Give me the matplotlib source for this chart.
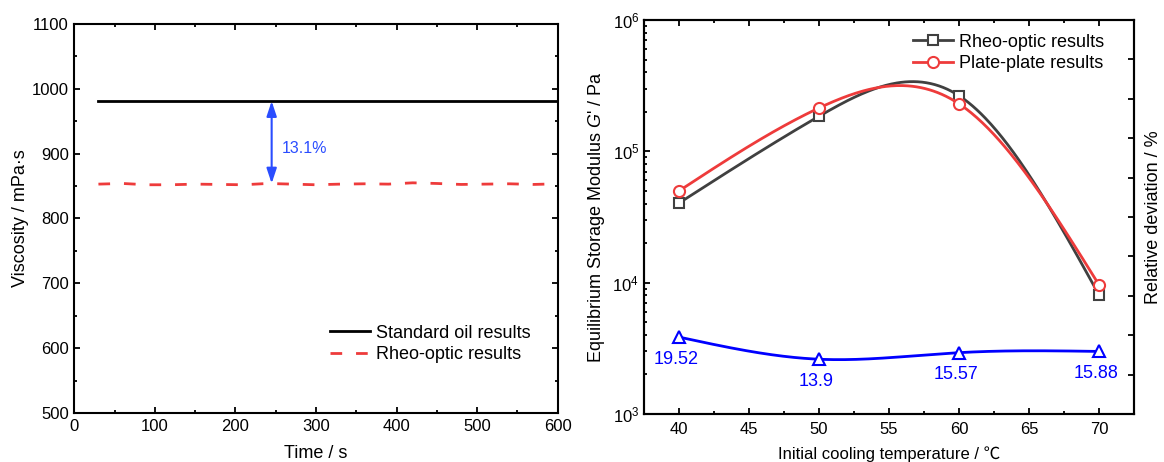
import numpy as np
import matplotlib
matplotlib.use('Agg')
import matplotlib.pyplot as plt
from matplotlib.lines import Line2D
from matplotlib.ticker import MultipleLocator, LogLocator, NullFormatter

plt.rcParams['font.family'] = ['Liberation Sans', 'Noto Sans CJK SC', 'DejaVu Sans']
plt.rcParams['mathtext.fontset'] = 'custom'
plt.rcParams['mathtext.rm'] = 'Liberation Sans'
plt.rcParams['mathtext.it'] = 'Liberation Sans:italic'
plt.rcParams['axes.linewidth'] = 1.5

# left panel: viscosity vs time
time_s = [30, 60, 90, 120, 150, 180, 210, 240, 270, 300,
          330, 360, 390, 420, 450, 480, 510, 540, 570, 600]
standard_oil = [981, 981, 981, 981, 981, 981, 981, 981, 981, 981,
                981, 981, 981, 981, 981, 981, 981, 981, 981, 981]
rheo_visc = [853, 854, 852, 852, 853, 852.5, 852, 854, 853, 852,
             853, 853.5, 853, 855, 854, 852.5, 853, 853.5, 852.5, 853.5]
arrow_x = 245
deviation_text = '13.1%'

# right panel: G' vs initial cooling temperature
temps = [40, 50, 60, 70]
g_rheo = [4.04e4, 1.85e5, 2.65e5, 8.05e3]
g_plate = [5.0e4, 2.14e5, 2.30e5, 9.6e3]
rel_dev = [19.52, 13.9, 15.57, 15.88]
rel_dev_labels = ['19.52', '13.9', '15.57', '15.88']


def spline(x, y, num=300):
    # natural cubic spline, like Origin's spline connector
    x = np.asarray(x, float)
    y = np.asarray(y, float)
    n = len(x)
    h = np.diff(x)
    A = np.zeros((n, n))
    b = np.zeros(n)
    A[0, 0] = A[-1, -1] = 1
    for i in range(1, n - 1):
        A[i, i - 1] = h[i - 1]
        A[i, i] = 2 * (h[i - 1] + h[i])
        A[i, i + 1] = h[i]
        b[i] = 6 * ((y[i + 1] - y[i]) / h[i] - (y[i] - y[i - 1]) / h[i - 1])
    M = np.linalg.solve(A, b)
    xs = np.linspace(x[0], x[-1], num)
    k = np.clip(np.searchsorted(x, xs) - 1, 0, n - 2)
    t0 = x[k + 1] - xs
    t1 = xs - x[k]
    hk = h[k]
    ys = ((M[k] * t0 ** 3 + M[k + 1] * t1 ** 3) / (6 * hk)
          + (y[k] / hk - M[k] * hk / 6) * t0
          + (y[k + 1] / hk - M[k + 1] * hk / 6) * t1)
    return xs, ys


fig = plt.figure(figsize=(11.64, 4.62), dpi=100)
ax1 = fig.add_axes([0.0638, 0.1061, 0.4153, 0.8420])
ax2 = fig.add_axes([0.5533, 0.1039, 0.4210, 0.8528])

# ---- left
ax1.plot(time_s, standard_oil, color='black', lw=2.0, label='Standard oil results')
ax1.plot(time_s, rheo_visc, color='#ee3b3b', lw=2.0, linestyle=(0, (4.2, 5)),
         label='Rheo-optic results')
ax1.annotate('', xy=(arrow_x, standard_oil[7]), xytext=(arrow_x, rheo_visc[7]),
             arrowprops=dict(arrowstyle='<|-|>,head_length=0.6,head_width=0.2',
                             color='#2a4dff', lw=1.5, shrinkA=0, shrinkB=0,
                             mutation_scale=15))
ax1.text(257, 908, deviation_text, color='#2a4dff', fontsize=11.5, va='center')
ax1.set_xlim(0, 600)
ax1.set_ylim(500, 1100)
ax1.xaxis.set_major_locator(MultipleLocator(100))
ax1.xaxis.set_minor_locator(MultipleLocator(50))
ax1.yaxis.set_major_locator(MultipleLocator(100))
ax1.yaxis.set_minor_locator(MultipleLocator(50))
ax1.tick_params(which='both', direction='in', top=True, right=True, width=1.3,
                labelsize=12, pad=4)
ax1.tick_params(which='major', length=4.3)
ax1.tick_params(which='minor', length=2.2)
ax1.set_xlabel('Time / s', fontsize=13)
ax1.set_ylabel('Viscosity / mPa·s', fontsize=13)
ax1.xaxis.set_label_coords(0.5, -0.082)
ax1.yaxis.set_label_coords(-0.094, 0.5)
ax1.legend(loc='lower right', bbox_to_anchor=(0.945, 0.128), frameon=False,
           fontsize=13, handlelength=2.2, handletextpad=0.35, borderpad=0,
           borderaxespad=0, labelspacing=0.25)

# ---- right
xs, ys = spline(temps, np.log10(g_rheo))
ax2.plot(xs, 10 ** ys, color='#404040', lw=2.0)
ax2.plot(temps, g_rheo, linestyle='none', marker='s', ms=7, mew=1.5,
         mfc='white', mec='#404040')
xs, ys = spline(temps, np.log10(g_plate))
ax2.plot(xs, 10 ** ys, color='#ee3b3b', lw=2.0)
ax2.plot(temps, g_plate, linestyle='none', marker='o', ms=8, mew=1.5,
         mfc='white', mec='#ee3b3b')
ax2.set_yscale('log')
ax2.set_xlim(37.5, 72.5)
ax2.set_ylim(1e3, 1e6)
ax2.xaxis.set_major_locator(MultipleLocator(5))
ax2.xaxis.set_minor_locator(MultipleLocator(2.5))
ax2.yaxis.set_major_locator(LogLocator(base=10))
ax2.yaxis.set_minor_locator(LogLocator(base=10, subs=np.arange(2, 10)))
ax2.yaxis.set_minor_formatter(NullFormatter())
ax2.tick_params(which='both', direction='in', top=True, right=False, width=1.3,
                labelsize=12)
ax2.tick_params(axis='x', pad=6)
ax2.tick_params(which='major', length=4.3)
ax2.tick_params(which='minor', length=2.2)
ax2.set_xlabel('Initial cooling temperature / ℃', fontsize=12)
ax2.set_ylabel("Equilibrium Storage Modulus $G$' / Pa", fontsize=13)
ax2.xaxis.set_label_coords(0.5, -0.082)
ax2.yaxis.set_label_coords(-0.076, 0.5)

handles = [Line2D([], [], color='#404040', lw=2.0, marker='s', ms=7, mew=1.5,
                  mfc='white', mec='#404040'),
           Line2D([], [], color='#ee3b3b', lw=2.0, marker='o', ms=8, mew=1.5,
                  mfc='white', mec='#ee3b3b')]
ax2.legend(handles, ['Rheo-optic results', 'Plate-plate results'],
           loc='upper right', bbox_to_anchor=(0.939, 0.965), frameon=False,
           fontsize=13, handlelength=2.2, handletextpad=0.35, borderpad=0,
           borderaxespad=0, labelspacing=0.25)

ax3 = ax2.twinx()
xs, ys = spline(temps, rel_dev)
ax3.plot(xs, ys, color='#0000ff', lw=2.0)
ax3.plot(temps, rel_dev, linestyle='none', marker='^', ms=8.5, mew=1.5,
         mfc='white', mec='#0000ff')
for t, v, s in zip(temps, rel_dev, rel_dev_labels):
    ax3.annotate(s, (t, v), xytext=(-3, -22), textcoords='offset pixels',
                 ha='center', va='center', color='#0000ff', fontsize=13)
ax3.set_ylim(0, 100)
ax3.yaxis.set_major_locator(MultipleLocator(10))
ax3.tick_params(axis='y', direction='in', length=4.3, width=1.3, labelright=False)
ax3.set_ylabel('Relative deviation / %', fontsize=13)
ax3.yaxis.set_label_coords(1.022, 0.5)

fig.savefig('out.png', dpi=100)
